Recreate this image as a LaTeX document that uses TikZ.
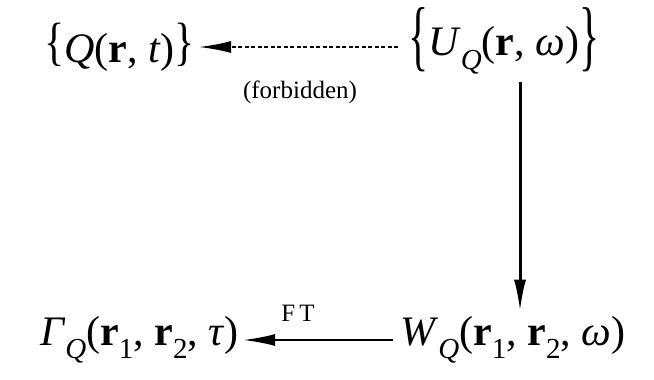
\documentclass[tikz,border=0pt]{standalone}
\usepackage{fontspec}
\setmainfont{Liberation Serif}
\usetikzlibrary{arrows.meta}
\newcommand\lowsub[1]{\raisebox{-0.32em}{\fontsize{29}{29}\selectfont #1}}
\newcommand\sbrace[3]{\raisebox{#2}{\scalebox{1}[#1]{#3}}}
\tikzset{
  term/.style={inner sep=4pt, font=\fontsize{42}{50}\selectfont},
  lbl/.style={inner sep=0pt, font=\fontsize{25}{28}\selectfont},
  conn/.style={line width=2.2pt, -{Latex[length=32pt,width=12pt]}},
}
\begin{document}
\begin{tikzpicture}[x=1pt,y=-1pt]
\useasboundingbox (0,0) rectangle (654,380);
\node[term, anchor=base west] (Q) at (40,62) {\sbrace{1.25}{0.06em}{\{}\textit{Q}(\textbf{r}, \textit{t})\sbrace{1.25}{0.06em}{\}}};
\node[term, anchor=base west] (U) at (404,56) {\sbrace{1.85}{-0.12em}{\{}\textit{U}\lowsub{\textit{Q}}(\textbf{r}, \textit{ω})\sbrace{1.85}{-0.12em}{\}}};
\node[term, anchor=base west] (G) at (36,345) {\textit{Γ}\lowsub{\textit{Q}}(\textbf{r}\lowsub{1}, \textbf{r}\lowsub{2}, \textit{τ})};
\node[term, anchor=base west] (W) at (396,345) {\textit{W}\lowsub{\textit{Q}}(\textbf{r}\lowsub{1}, \textbf{r}\lowsub{2}, \textit{ω})};
\node[lbl] (fb) at (300,92) {(forbidden)};
\node[lbl] (ft) at (298,313) {F\,T};
\coordinate (dtail) at (398,47);
\coordinate (vtail) at (520,82);
\draw[conn, line width=1.6pt, dash pattern=on 4pt off 2.5pt] (dtail) -- (dtail -| Q.east);
\draw[conn, line width=3pt] (vtail) -- (vtail |- W.north);
\coordinate (btail) at (393,340);
\draw[conn] (btail) -- (btail -| G.east);
\end{tikzpicture}
\end{document}
